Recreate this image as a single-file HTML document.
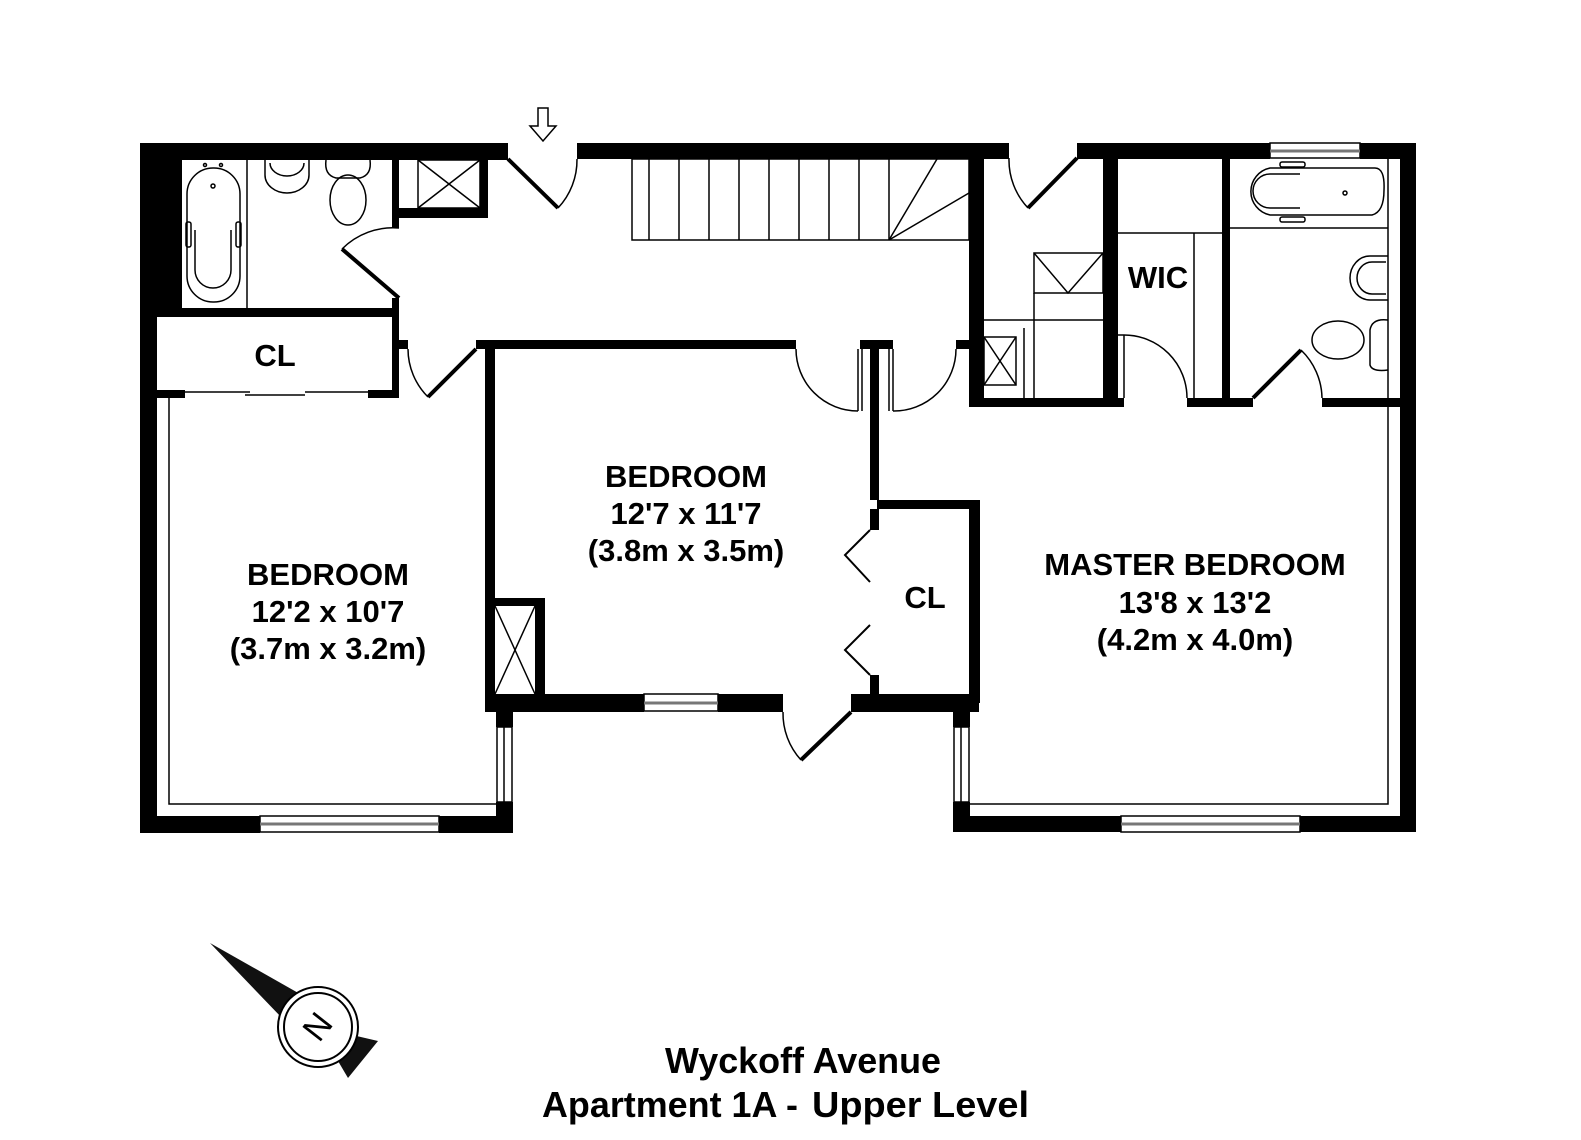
<!DOCTYPE html>
<html><head><meta charset="utf-8"><style>
html,body{margin:0;padding:0;background:#fff}
svg{display:block}
text{font-family:"Liberation Sans",Arial,sans-serif;font-weight:bold;fill:#000}
</style></head><body>
<svg width="1581" height="1140" viewBox="0 0 1581 1140" xmlns="http://www.w3.org/2000/svg">
<g fill="#000">
<rect x="140" y="143" width="368" height="17"/>
<rect x="577" y="143" width="432" height="16"/>
<rect x="1077" y="143" width="193" height="16"/>
<rect x="1360" y="143" width="56" height="16"/>
<rect x="1400" y="143" width="16" height="689"/>
<rect x="140" y="143" width="17" height="690"/>
<rect x="140" y="160" width="42" height="148"/>
<rect x="140" y="816" width="120" height="17"/>
<rect x="439" y="816" width="74" height="17"/>
<rect x="496" y="703" width="17" height="24"/>
<rect x="496" y="802" width="17" height="31"/>
<rect x="953" y="816" width="168" height="16"/>
<rect x="1300" y="816" width="116" height="16"/>
<rect x="953" y="703" width="17" height="24"/>
<rect x="953" y="802" width="17" height="30"/>
<rect x="485" y="694" width="159" height="18"/>
<rect x="718" y="694" width="65" height="18"/>
<rect x="851" y="694" width="128" height="18"/>
<rect x="877" y="500" width="103" height="9"/>
<rect x="969" y="500" width="11" height="203"/>
<rect x="870" y="509" width="9" height="21"/>
<rect x="870" y="675" width="9" height="20"/>
<rect x="870" y="349" width="9" height="151"/>
<rect x="860" y="340" width="33" height="9"/>
<rect x="485" y="340" width="10" height="355"/>
<rect x="476" y="340" width="320" height="9"/>
<rect x="485" y="598" width="60" height="8"/>
<rect x="535" y="598" width="10" height="97"/>
<rect x="392" y="143" width="7" height="85"/>
<rect x="392" y="298" width="7" height="100"/>
<rect x="392" y="340" width="16" height="9"/>
<rect x="140" y="308" width="259" height="9"/>
<rect x="157" y="390" width="28" height="8"/>
<rect x="368" y="390" width="31" height="8"/>
<rect x="480" y="160" width="8" height="58"/>
<rect x="392" y="208" width="96" height="10"/>
<rect x="956" y="340" width="14" height="9"/>
<rect x="969" y="143" width="15" height="264"/>
<rect x="969" y="398" width="155" height="9"/>
<rect x="1187" y="398" width="66" height="9"/>
<rect x="1322" y="398" width="78" height="9"/>
<rect x="1103" y="158" width="15" height="249"/>
<rect x="1222" y="158" width="8" height="240"/>
</g>
<g fill="none" stroke="#000" stroke-width="1.5">
<rect x="260" y="816" width="179" height="16"/><line x1="260" y1="824" x2="439" y2="824" stroke="#777" stroke-width="3"/>
<rect x="1121" y="816" width="179" height="16"/><line x1="1121" y1="824" x2="1300" y2="824" stroke="#777" stroke-width="3"/>
<rect x="644" y="694" width="74" height="17"/><line x1="644" y1="703" x2="718" y2="703" stroke="#777" stroke-width="3"/>
<rect x="1270" y="143" width="90" height="15"/><line x1="1270" y1="151" x2="1360" y2="151" stroke="#777" stroke-width="3"/>
<rect x="497" y="727" width="15" height="75"/><line x1="504" y1="727" x2="504" y2="802"/>
<rect x="954" y="727" width="15" height="75"/><line x1="961" y1="727" x2="961" y2="802"/>
<polyline points="169,398 169,804 496,804"/>
<polyline points="970,804 1388,804 1388,158"/>
<line x1="185" y1="392" x2="250" y2="392"/><line x1="245" y1="395" x2="305" y2="395"/><line x1="305" y1="392" x2="368" y2="392"/>
<rect x="418" y="160" width="62" height="48"/><line x1="418" y1="160" x2="480" y2="208"/><line x1="480" y1="160" x2="418" y2="208"/>
<line x1="495" y1="606" x2="535" y2="694"/><line x1="535" y1="606" x2="495" y2="694"/>
<rect x="632" y="159" width="337" height="81"/>
<line x1="649" y1="159" x2="649" y2="240"/><line x1="679" y1="159" x2="679" y2="240"/><line x1="709" y1="159" x2="709" y2="240"/><line x1="739" y1="159" x2="739" y2="240"/><line x1="769" y1="159" x2="769" y2="240"/><line x1="799" y1="159" x2="799" y2="240"/><line x1="829" y1="159" x2="829" y2="240"/><line x1="859" y1="159" x2="859" y2="240"/><line x1="889" y1="159" x2="889" y2="240"/>
<line x1="889" y1="240" x2="937" y2="159"/><line x1="889" y1="240" x2="969" y2="193"/>
<rect x="1034" y="253" width="69" height="40"/><polyline points="1034,253 1068,293 1103,253"/>
<line x1="1034" y1="293" x2="1034" y2="398"/><line x1="1034" y1="320" x2="1103" y2="320"/>
<line x1="984" y1="320" x2="1034" y2="320"/><line x1="1024" y1="328" x2="1024" y2="398"/>
<rect x="984" y="337" width="32" height="48"/><line x1="984" y1="337" x2="1016" y2="385"/><line x1="1016" y1="337" x2="984" y2="385"/>
<line x1="1118" y1="233" x2="1222" y2="233"/><line x1="1194" y1="233" x2="1194" y2="398"/>
<path d="M558,208 A70,70 0 0,0 577,159"/>
<path d="M342,249 A72,72 0 0,1 399,228"/>
<path d="M428,397 A68,68 0 0,1 408,349"/>
<path d="M796,349 A62,62 0 0,0 858,411"/>
<path d="M893,411 A62,62 0 0,0 956,349"/>
<path d="M1028,208 A70,70 0 0,1 1009,158"/>
<path d="M1124,335 A63,63 0 0,1 1187,398"/>
<path d="M1301,350 A68,68 0 0,1 1322,398"/>
<path d="M801,760 A69,69 0 0,1 783,712"/>
<line x1="858" y1="349" x2="858" y2="411"/><line x1="862" y1="349" x2="862" y2="411"/>
<line x1="893" y1="349" x2="893" y2="411"/><line x1="889" y1="349" x2="889" y2="411"/>
<line x1="1124" y1="335" x2="1124" y2="398"/><line x1="1118" y1="335" x2="1124" y2="335"/>
<path d="M538,108 H548 V126 H556 L543,141 L530,126 H538 Z"/>
<line x1="247" y1="160" x2="247" y2="308"/>
<rect x="187" y="168" width="53" height="134" rx="26"/>
<path d="M195,230 V270 A18,18 0 0,0 231,270 V230"/>
<rect x="186" y="222" width="5" height="25" rx="2"/><rect x="236" y="222" width="5" height="25" rx="2"/>
<circle cx="213" cy="186" r="2"/><circle cx="205" cy="165" r="1.5"/><circle cx="221" cy="165" r="1.5"/>
<path d="M265,160 V175 A22,18 0 0,0 309,175 V160"/><path d="M270,163 A17,13 0 0,0 304,163"/>
<path d="M326,160 Q324,175 336,178 H360 Q372,175 370,160"/>
<ellipse cx="348" cy="200" rx="18" ry="25"/>
<line x1="1230" y1="228" x2="1388" y2="228"/>
<path d="M1270,168 H1375 Q1385,168 1384,190 Q1384,212 1372,215 H1270 A24,24 0 0,1 1270,168 Z"/>
<path d="M1300,174 H1270 A17,17 0 0,0 1270,208 H1300"/>
<rect x="1280" y="162" width="25" height="5" rx="2"/><rect x="1280" y="217" width="25" height="5" rx="2"/>
<circle cx="1345" cy="193" r="2"/>
<path d="M1388,256 H1370 A20,22 0 0,0 1370,300 H1388"/><path d="M1386,262 H1372 A15,16 0 0,0 1372,294 H1386"/>
<path d="M1388,320 Q1372,318 1370,330 V365 Q1372,372 1388,370"/>
<ellipse cx="1338" cy="340" rx="26" ry="19"/>
</g>
<g fill="none" stroke="#000" stroke-width="4">
<line x1="508" y1="159" x2="558" y2="208"/>
<line x1="399" y1="298" x2="342" y2="249"/>
<line x1="476" y1="349" x2="428" y2="397"/>
<line x1="1077" y1="158" x2="1028" y2="208"/>
<line x1="1253" y1="398" x2="1301" y2="350"/>
<line x1="851" y1="712" x2="801" y2="760"/>
</g>
<g fill="none" stroke="#000" stroke-width="2">
<polyline points="870,530 845,555 870,582"/>
<polyline points="870,625 845,650 870,675"/>
</g>
<g font-size="31" text-anchor="middle">
<text x="275" y="366">CL</text>
<text x="925" y="608">CL</text>
<text x="1158" y="288">WIC</text>
<text x="686" y="487">BEDROOM</text>
<text x="686" y="524">12'7 x 11'7</text>
<text x="686" y="561">(3.8m x 3.5m)</text>
<text x="328" y="585">BEDROOM</text>
<text x="328" y="622">12'2 x 10'7</text>
<text x="328" y="659">(3.7m x 3.2m)</text>
<text x="1195" y="575">MASTER BEDROOM</text>
<text x="1195" y="613">13'8 x 13'2</text>
<text x="1195" y="650">(4.2m x 4.0m)</text>
</g>
<g font-size="36">
<text x="665" y="1073" textLength="276" lengthAdjust="spacingAndGlyphs">Wyckoff Avenue</text>
<text x="542" y="1117" textLength="256" lengthAdjust="spacingAndGlyphs">Apartment 1A -</text>
<text x="812" y="1117" textLength="217" lengthAdjust="spacingAndGlyphs">Upper Level</text>
</g>
<g>
<polygon points="318,1027 378,1041 348,1078" fill="#111"/>
<polygon points="210,943 330,1011 306,1043" fill="#111"/>
<circle cx="318" cy="1027" r="40" fill="#fff" stroke="#000" stroke-width="2"/>
<circle cx="318" cy="1027" r="34" fill="none" stroke="#000" stroke-width="2"/>
<text x="318" y="1027" font-size="34" text-anchor="middle" dominant-baseline="central" transform="rotate(-52 318 1027)" style="font-weight:normal">N</text>
</g>
</svg>
</body></html>
